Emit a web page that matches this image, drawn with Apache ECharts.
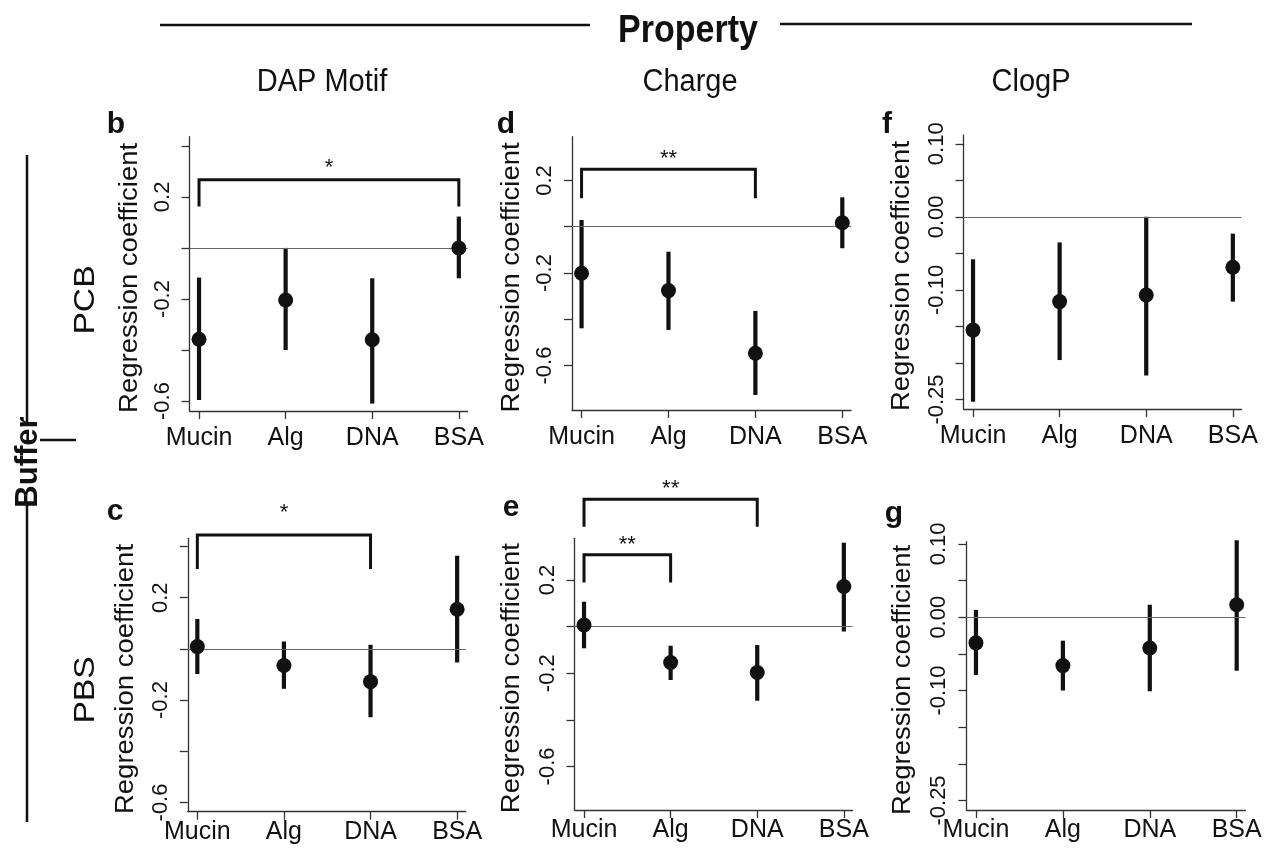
<!DOCTYPE html>
<html><head><meta charset="utf-8">
<script src="https://cdn.jsdelivr.net/npm/echarts@6/dist/echarts.min.js"></script>
<style>html,body{margin:0;padding:0;background:#fff}#c{width:1266px;height:850px}</style>
</head><body><div id="c"></div>
<script>
// ---------- data ----------
const categories = ['Mucin', 'Alg', 'DNA', 'BSA'];

// b: PCB / DAP Motif
const bEst  = [-0.358, -0.204, -0.360, 0.000];
const bLow  = [-0.596, -0.400, -0.610, -0.119];
const bHigh = [-0.116, 0.000, -0.119, 0.123];
// d: PCB / Charge
const dEst  = [-0.201, -0.276, -0.547, 0.017];
const dLow  = [-0.439, -0.446, -0.727, -0.093];
const dHigh = [0.029, -0.108, -0.364, 0.127];
// f: PCB / ClogP
const fEst  = [-0.155, -0.116, -0.107, -0.069];
const fLow  = [-0.253, -0.196, -0.217, -0.116];
const fHigh = [-0.058, -0.035, 0.000, -0.023];
// c: PBS / DAP Motif
const cEst  = [0.009, -0.065, -0.128, 0.155];
const cLow  = [-0.098, -0.156, -0.267, -0.053];
const cHigh = [0.117, 0.029, 0.016, 0.364];
// e: PBS / Charge
const eEst  = [0.007, -0.154, -0.197, 0.172];
const eLow  = [-0.093, -0.229, -0.318, -0.021];
const eHigh = [0.107, -0.082, -0.079, 0.360];
// g: PBS / ClogP
const gEst  = [-0.035, -0.066, -0.042, 0.017];
const gLow  = [-0.079, -0.100, -0.101, -0.073];
const gHigh = [0.010, -0.032, 0.017, 0.105];

// significance brackets: [fromCat, toCat, barY, legY, starY]
const bBrackets = [[1, 4, 0.267, 0.162, 0.333]];
const bStars = ['*'];
const dBrackets = [[1, 3, 0.248, 0.123, 0.314]];
const dStars = ['**'];
const cBrackets = [[1, 3, 0.445, 0.3125, 0.551]];
const cStars = ['*'];
const eBrackets = [[1, 3, 0.547, 0.429, 0.612], [1, 2, 0.308, 0.189, 0.372]];
const eStars = ['**', '**'];

// tick values / tick labels
const ticksWide = [-0.6, -0.4, -0.2, 0, 0.2, 0.4];
const labelsWide = [-0.6, -0.2, 0.2];
const ticksNarrow = [-0.25, -0.2, -0.15, -0.1, -0.05, 0, 0.05, 0.1];
const labelsNarrow = [-0.25, -0.1, 0, 0.1];

const columnTitles = ['DAP Motif', 'Charge', 'ClogP'];
const rowTitles = ['PCB', 'PBS'];
const yTitle = 'Regression coefficient';

// ---------- layout ----------
const FONT = '"Liberation Sans", Arial, Helvetica, sans-serif';
const INK = '#111';
const panels = [
  {letter: 'b', est: bEst, low: bLow, high: bHigh, br: bBrackets, st: bStars,
   grid: {left: 189.5, top: 136.7, width: 278, height: 274.3}, ymin: -0.639, ymax: 0.436, ticks: ticksWide, labels: labelsWide, dec: 1, xm: 15, tg: 59,
   lx: 116, ly: 125},
  {letter: 'd', est: dEst, low: dLow, high: dHigh, br: dBrackets, st: dStars,
   grid: {left: 572, top: 136.7, width: 279, height: 273.3}, ymin: -0.792, ymax: 0.389, ticks: ticksWide, labels: labelsWide, dec: 1, xm: 15, tg: 60,
   lx: 506, ly: 125},
  {letter: 'f', est: fEst, low: fLow, high: fHigh, br: [], st: [],
   grid: {left: 963.5, top: 135, width: 278, height: 274}, ymin: -0.263, ymax: 0.112, ticks: ticksNarrow, labels: labelsNarrow, dec: 2, xm: 15, tg: 61,
   lx: 887, ly: 125},
  {letter: 'c', est: cEst, low: cLow, high: cHigh, br: cBrackets, st: cStars,
   grid: {left: 187.8, top: 538.3, width: 278, height: 273.4}, ymin: -0.636, ymax: 0.432, ticks: ticksWide, labels: labelsWide, dec: 1, xm: 8, tg: 62,
   lx: 115, ly: 512},
  {letter: 'e', est: eEst, low: eLow, high: eHigh, br: eBrackets, st: eStars,
   grid: {left: 574.5, top: 538.3, width: 278, height: 271.7}, ymin: -0.787, ymax: 0.379, ticks: ticksWide, labels: labelsWide, dec: 1, xm: 8, tg: 62,
   lx: 511, ly: 508},
  {letter: 'g', est: gEst, low: gLow, high: gHigh, br: [], st: [],
   grid: {left: 966.4, top: 541.7, width: 279, height: 268.3}, ymin: -0.263, ymax: 0.103, ticks: ticksNarrow, labels: labelsNarrow, dec: 2, xm: 8, tg: 63,
   lx: 894, ly: 514}
];

const grids = [], xAxes = [], yAxes = [], series = [];
panels.forEach((p, k) => {
  grids.push(Object.assign({}, p.grid));
  xAxes.push({
    type: 'value', gridIndex: k, min: 0.89, max: 4.1,
    axisLine: {show: true, onZero: false, lineStyle: {color: '#333', width: 1.3}},
    axisTick: {show: true, customValues: [1, 2, 3, 4], length: 8, lineStyle: {color: '#333', width: 1.3}},
    axisLabel: {customValues: [1, 2, 3, 4], formatter: v => categories[Math.round(v) - 1],
      fontFamily: FONT, fontSize: 25, color: INK, margin: p.xm},
    splitLine: {show: false}
  });
  yAxes.push({
    type: 'value', gridIndex: k, min: p.ymin, max: p.ymax,
    axisLine: {show: true, onZero: false, lineStyle: {color: '#333', width: 1.3}},
    axisTick: {show: true, customValues: p.ticks, length: 8, lineStyle: {color: '#333', width: 1.3}},
    axisLabel: {customValues: p.labels, rotate: 90, formatter: v => Number(v).toFixed(p.dec),
      fontFamily: FONT, fontSize: 22, color: INK, margin: 16},
    splitLine: {show: false}
  });
  // error bars
  series.push({
    type: 'custom', xAxisIndex: k, yAxisIndex: k, silent: true,
    data: p.est.map((_, i) => [i + 1, p.low[i], p.high[i]]),
    renderItem: (params, api) => {
      const a = api.coord([api.value(0), api.value(1)]);
      const b = api.coord([api.value(0), api.value(2)]);
      return {type: 'line', shape: {x1: a[0], y1: a[1], x2: b[0], y2: b[1]},
        style: {stroke: INK, lineWidth: 4.2}};
    }
  });
  // points + zero line
  series.push({
    type: 'scatter', xAxisIndex: k, yAxisIndex: k, silent: true, z: 5,
    symbol: 'circle', symbolSize: 15, itemStyle: {color: INK, opacity: 1},
    data: p.est.map((v, i) => [i + 1, v]),
    markLine: {silent: true, symbol: ['none', 'none'], label: {show: false},
      lineStyle: {color: '#666', width: 1.2, type: 'solid', opacity: 1}, animation: false,
      data: [{yAxis: 0}]}
  });
  // brackets
  if (p.br.length) {
    const stars = p.st;
    series.push({
      type: 'custom', xAxisIndex: k, yAxisIndex: k, silent: true, clip: false,
      data: p.br,
      renderItem: (params, api) => {
        const x1 = api.value(0), x2 = api.value(1), y = api.value(2), leg = api.value(3), sy = api.value(4);
        const a = api.coord([x1, leg]), b = api.coord([x1, y]), c = api.coord([x2, y]), d = api.coord([x2, leg]);
        const s = api.coord([(x1 + x2) / 2, sy]);
        return {type: 'group', children: [
          {type: 'polyline', shape: {points: [a, b, c, d]}, style: {stroke: INK, lineWidth: 3, fill: 'none'}},
          {type: 'text', x: s[0], y: s[1] + 5, style: {text: stars[params.dataIndex], fontFamily: FONT,
            fontSize: 22, fill: INK, align: 'center', verticalAlign: 'middle'}}
        ]};
      }
    });
  }
});

// ---------- decorations ----------
const graphic = [
  {type: 'line', shape: {x1: 160, y1: 25, x2: 590, y2: 25}, style: {stroke: INK, lineWidth: 2.5}},
  {type: 'line', shape: {x1: 780, y1: 24, x2: 1192, y2: 24}, style: {stroke: INK, lineWidth: 2.5}},
  {type: 'text', x: 688, y: 31, scaleY: 1.12, style: {text: 'Property', fontFamily: FONT, fontWeight: 'bold', fontSize: 34, fill: INK, align: 'center', verticalAlign: 'middle'}},
  {type: 'text', x: 322, y: 82, scaleY: 1.1, style: {text: columnTitles[0], fontFamily: FONT, fontSize: 29, fill: INK, align: 'center', verticalAlign: 'middle'}},
  {type: 'text', x: 690, y: 82, scaleY: 1.1, style: {text: columnTitles[1], fontFamily: FONT, fontSize: 29, fill: INK, align: 'center', verticalAlign: 'middle'}},
  {type: 'text', x: 1031, y: 82, scaleY: 1.1, style: {text: columnTitles[2], fontFamily: FONT, fontSize: 29, fill: INK, align: 'center', verticalAlign: 'middle'}},
  {type: 'line', shape: {x1: 27, y1: 155, x2: 27, y2: 422}, style: {stroke: INK, lineWidth: 2.5}},
  {type: 'line', shape: {x1: 27, y1: 503, x2: 27, y2: 822}, style: {stroke: INK, lineWidth: 2.5}},
  {type: 'line', shape: {x1: 40, y1: 440, x2: 76, y2: 440}, style: {stroke: INK, lineWidth: 2.5}},
  {type: 'text', x: 28, y: 462, rotation: Math.PI / 2, style: {text: 'Buffer', fontFamily: FONT, fontWeight: 'bold', fontSize: 31, fill: INK, align: 'center', verticalAlign: 'middle'}},
  {type: 'text', x: 86, y: 300, rotation: Math.PI / 2, scaleX: 1.12, style: {text: rowTitles[0], fontFamily: FONT, fontSize: 30, fill: INK, align: 'center', verticalAlign: 'middle'}},
  {type: 'text', x: 86, y: 690, rotation: Math.PI / 2, scaleX: 1.12, style: {text: rowTitles[1], fontFamily: FONT, fontSize: 30, fill: INK, align: 'center', verticalAlign: 'middle'}}
];
panels.forEach(p => {
  graphic.push({type: 'text', x: p.lx, y: p.ly,
    style: {text: p.letter, fontFamily: FONT, fontWeight: 'bold', fontSize: 30, fill: INK, align: 'center', verticalAlign: 'middle'}});
  graphic.push({type: 'text', x: p.grid.left - p.tg, y: p.grid.top + p.grid.height / 2 + 4,
    rotation: Math.PI / 2, scaleX: 1.1,
    style: {text: yTitle, fontFamily: FONT, fontSize: 25, fill: INK, align: 'center', verticalAlign: 'middle'}});
});

const chart = echarts.init(document.getElementById('c'), null, {renderer: 'canvas'});
chart.setOption({
  backgroundColor: '#fff', animation: false,
  grid: grids, xAxis: xAxes, yAxis: yAxes, series: series, graphic: graphic
});
</script></body></html>
